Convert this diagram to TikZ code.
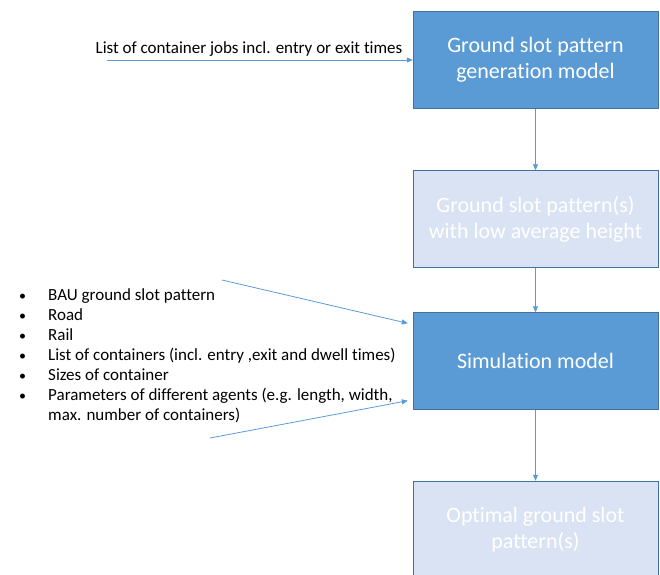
\documentclass[tikz,border=0pt]{standalone}
\usepackage{fontspec}
\setmainfont{Carlito}[Ligatures=NoCommon]
\usetikzlibrary{arrows.meta}
\definecolor{boxblue}{HTML}{5B9BD5}
\definecolor{boxedge}{HTML}{41719C}
\definecolor{boxlight}{HTML}{DAE3F3}
\newcommand{\listdot}{{\fontsize{14}{20}\selectfont\textbullet}}
\begin{document}
\begin{tikzpicture}[x=1pt,y=-1pt]
\tikzstyle{every node}+=[inner sep=0pt]
\tikzstyle{dark}=[draw=boxedge, fill=boxblue, minimum width=245pt, minimum height=97pt, text=white, align=center, font=\fontsize{22}{26}\selectfont]
\tikzstyle{light}=[dark, fill=boxlight]
\tikzstyle{feed}=[draw=boxblue, line width=0.8pt, -{Triangle[length=6pt,width=5pt]}]
\tikzstyle{plain}=[font=\fontsize{17}{20}\selectfont]
\useasboundingbox (0,0) rectangle (660,574);
% boxes
\node [dark] (gen) at (535.5,60) {Ground slot pattern\\generation model};
\node [light] (pat) at (535.5,219) {Ground slot pattern(s)\\with low average height};
\node [dark] (sim) at (535.5,361) {Simulation model};
\node [light] (opt) at (535.5,529.5) {Optimal ground slot\\pattern(s)};
% inputs
\coordinate (jobs) at (107,60);
\node [plain, anchor=base] (jobslbl) at (249,53) {List of container jobs incl. entry or exit times};
\node [plain, anchor=base west] (simlist) at (19,300) {%
\begin{tabular}[t]{@{}p{29pt}@{}l@{}}
\listdot & BAU ground slot pattern\\
\listdot & Road\\
\listdot & Rail\\
\listdot & List of containers (incl. entry ,exit and dwell times)\\
\listdot & Sizes of container\\
\listdot & Parameters of different agents (e.g. length, width,\\
 & max. number of containers)
\end{tabular}};
\coordinate (bauin) at (222,280);
\coordinate (agin) at (210,438);
% connectors
\draw [feed] (jobs) -- (gen.west);
\draw [feed] (gen) -- (pat);
\draw [feed] (pat) -- (sim);
\draw [feed] (sim) -- (opt);
\draw [feed] (bauin) -- ([shift={(-5,11)}]sim.north west);
\draw [feed] (agin) -- ([shift={(-5,-9)}]sim.south west);
\end{tikzpicture}
\end{document}
